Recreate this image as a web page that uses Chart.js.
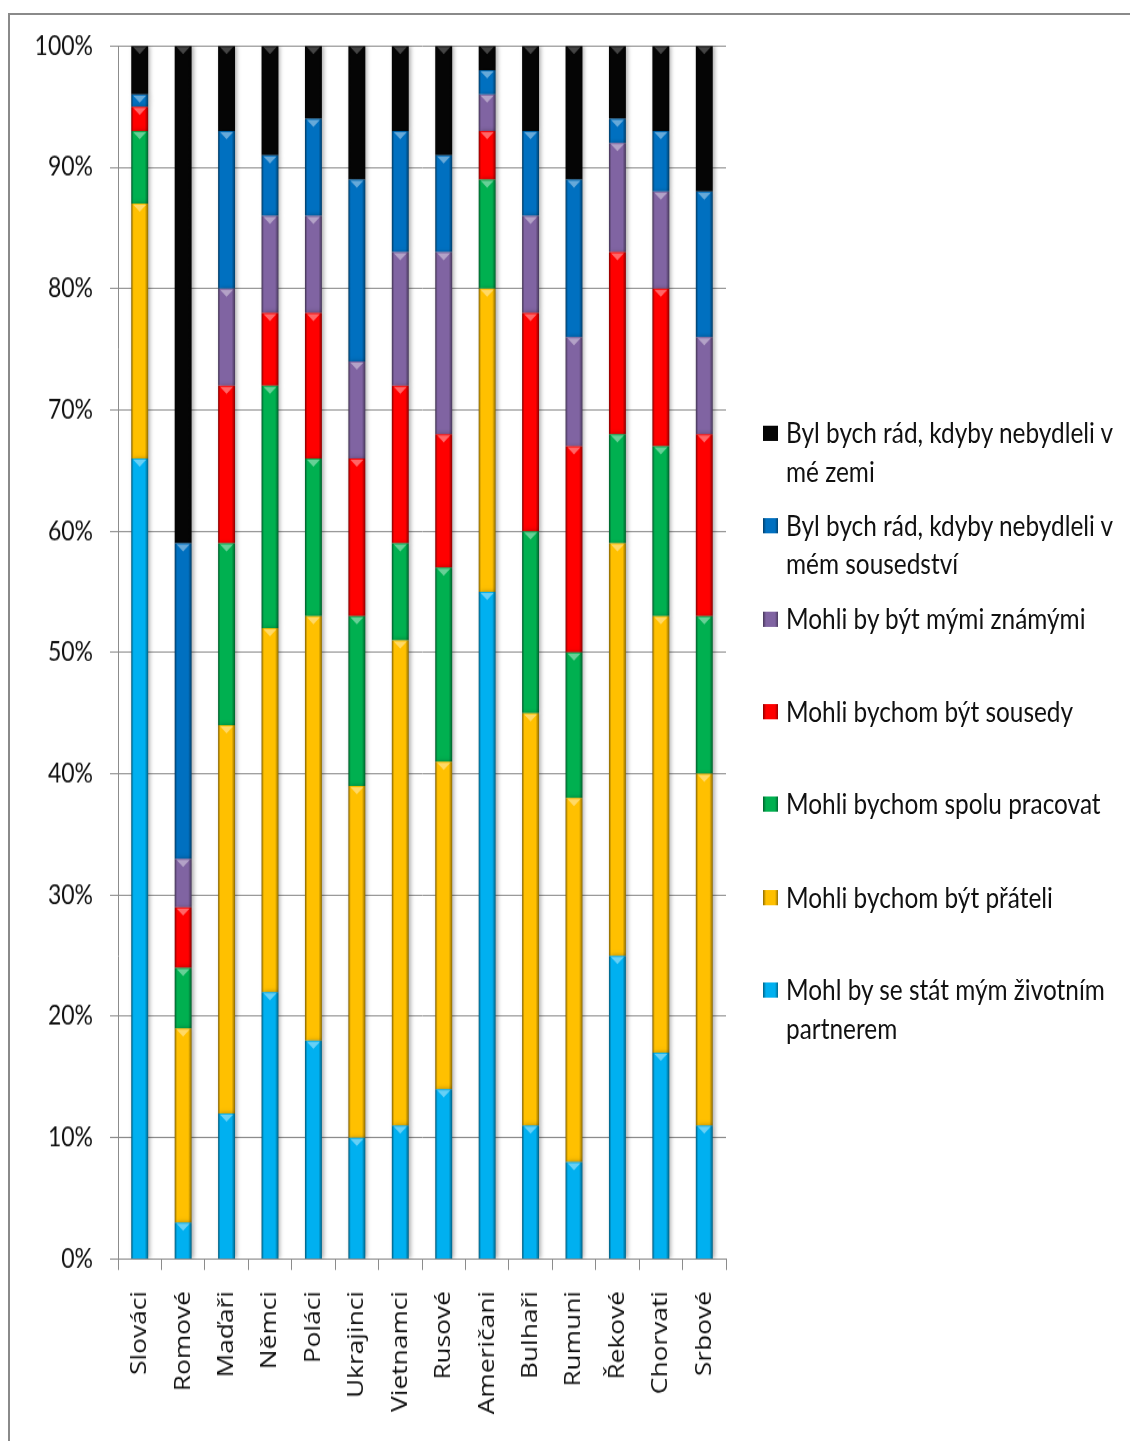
<!DOCTYPE html>
<html>
<head>
<meta charset="utf-8">
<script src="https://cdn.jsdelivr.net/npm/chart.js@4.4.1/dist/chart.umd.min.js"></script>
<style>
  html, body { margin: 0; padding: 0; background: #fff; overflow: hidden; }
  #frame { position: absolute; left: 8px; top: 13px; width: 1200px; height: 1500px;
           border-top: 2px solid #8a8a8a; border-left: 2px solid #8a8a8a; }
  /* the whole figure is drawn a bit squat and stretched vertically */
  #stage { position: absolute; left: 0; top: 0; width: 1130px; height: 1232px;
           transform-origin: 0 0; transform: scaleY(1.1696); }
  #legend { position: absolute; left: 763px; top: 354px; font-family: Lato, sans-serif;
            font-size: 24.4px; color: #111; }
  .item { position: relative; height: 79.35px; padding-left: 23px; line-height: 32.5px; width: 348px; }
  .box { position: absolute; left: 0; top: 10px; width: 15px; height: 13px; }
</style>
</head>
<body>
<div id="frame"></div>
<div id="stage">
  <canvas id="chart" width="1130" height="1232"></canvas>
  <div id="legend"></div>
</div>
<script>
const categories = ['Slováci', 'Romové', 'Maďaři', 'Němci', 'Poláci', 'Ukrajinci', 'Vietnamci',
                    'Rusové', 'Američani', 'Bulhaři', 'Rumuni', 'Řekové', 'Chorvati', 'Srbové'];

// shares in %, bottom of the stack first
const partner       = [66,  3, 12, 22, 18, 10, 11, 14, 55, 11,  8, 25, 17, 11];
const friends       = [21, 16, 32, 30, 35, 29, 40, 27, 25, 34, 30, 34, 36, 29];
const coworkers     = [ 6,  5, 15, 20, 13, 14,  8, 16,  9, 15, 12,  9, 14, 13];
const neighbours    = [ 2,  5, 13,  6, 12, 13, 13, 11,  4, 18, 17, 15, 13, 15];
const acquaintances = [ 0,  4,  8,  8,  8,  8, 11, 15,  3,  8,  9,  9,  8,  8];
const notNearby     = [ 1, 26, 13,  5,  8, 15, 10,  8,  2,  7, 13,  2,  5, 12];
const notInCountry  = [ 4, 41,  7,  9,  6, 11,  7,  9,  2,  7, 11,  6,  7, 12];

const seriesNames = [
  'Mohl by se stát mým životním partnerem',
  'Mohli bychom být přáteli',
  'Mohli bychom spolu pracovat',
  'Mohli bychom být sousedy',
  'Mohli by být mými známými',
  'Byl bych rád, kdyby nebydleli v mém sousedství',
  'Byl bych rád, kdyby nebydleli v mé zemi'
];
const seriesValues = [partner, friends, coworkers, neighbours, acquaintances, notNearby, notInCountry];
const colors = ['#00B0F0', '#FFC000', '#00B050', '#FF0000', '#8064A2', '#0070C0', '#050505'];

const barPct = 0.39;

function rgb(hex) {
  const n = parseInt(hex.slice(1), 16);
  return [(n >> 16) & 255, (n >> 8) & 255, n & 255];
}
function shade(hex, f) {
  const [r, g, b] = rgb(hex);
  return `rgb(${Math.round(r * f)},${Math.round(g * f)},${Math.round(b * f)})`;
}
function tint(hex, f) {
  const [r, g, b] = rgb(hex);
  return `rgb(${Math.round(r + (255 - r) * f)},${Math.round(g + (255 - g) * f)},${Math.round(b + (255 - b) * f)})`;
}

// horizontal gradient across each bar for the bevelled look
function barFill(ctx, base) {
  const chart = ctx.chart;
  const x = chart.scales && chart.scales.x;
  if (ctx.type !== 'data' || !x || !x.width) return base;
  const cx = x.getPixelForValue(ctx.dataIndex);
  if (!isFinite(cx)) return base;
  const hw = x.width / categories.length * barPct / 2;
  const g = chart.ctx.createLinearGradient(cx - hw, 0, cx + hw, 0);
  g.addColorStop(0, shade(base, 0.5));
  g.addColorStop(0.14, base);
  g.addColorStop(0.8, base);
  g.addColorStop(1, shade(base, 0.55));
  return g;
}

// soft shadow right of the bars and a small lighter wedge on top of each segment
const bevel = {
  id: 'bevel',
  beforeDatasetsDraw(chart) {
    const c = chart.ctx;
    c.save();
    c.shadowColor = 'rgba(0,0,0,0.3)';
    c.shadowBlur = 4;
    c.shadowOffsetX = 2;
  },
  afterDatasetsDraw(chart) {
    const c = chart.ctx;
    c.restore();
    chart.data.datasets.forEach((ds, i) => {
      chart.getDatasetMeta(i).data.forEach(bar => {
        const h = Math.abs(bar.base - bar.y);
        if (h < 2) return;
        const half = bar.width / 2 - 2;
        c.beginPath();
        c.moveTo(bar.x - half, bar.y + 1);
        c.lineTo(bar.x + half, bar.y + 1);
        c.lineTo(bar.x, bar.y + 1 + Math.min(6, h - 1));
        c.closePath();
        c.fillStyle = i === 6 ? '#444' : tint(colors[i], 0.4);
        c.fill();
      });
    });
  }
};

const datasets = seriesValues.map((vals, i) => ({
  label: seriesNames[i],
  data: vals,
  backgroundColor: ctx => barFill(ctx, colors[i]),
  borderWidth: 0,
  barPercentage: barPct,
  categoryPercentage: 1
}));

const axisGray = '#8c8c8c';

new Chart(document.getElementById('chart').getContext('2d'), {
  type: 'bar',
  data: { labels: categories, datasets: datasets },
  options: {
    responsive: false,
    animation: false,
    layout: { padding: { top: 39.3, right: 404, bottom: 0, left: 0 } },
    plugins: { legend: { display: false }, tooltip: { enabled: false } },
    scales: {
      x: {
        stacked: true,
        offset: true,
        grid: { offset: true, drawOnChartArea: false, drawTicks: true, tickLength: 9.4, color: axisGray },
        border: { color: axisGray },
        ticks: {
          autoSkip: false, minRotation: 90, maxRotation: 90, padding: 18, color: '#111',
          font: { family: '"Open Sans"', size: 22.5 }
        },
        afterFit: s => { s.height = 1232 - 1076.4; }
      },
      y: {
        stacked: true,
        min: 0,
        max: 100,
        grid: { color: axisGray, tickLength: 8 },
        border: { color: axisGray },
        ticks: {
          stepSize: 10, padding: 17, color: '#111',
          font: { family: 'Lato', size: 23 },
          callback: v => v + '%'
        },
        afterFit: s => { s.width = 118; }
      }
    }
  },
  plugins: [bevel]
});

// legend, top entry = top of the stack
const legend = document.getElementById('legend');
for (let i = seriesNames.length - 1; i >= 0; i--) {
  const item = document.createElement('div');
  item.className = 'item';
  const box = document.createElement('span');
  box.className = 'box';
  box.style.background = `linear-gradient(to right, ${shade(colors[i], 0.55)}, ${colors[i]} 20%, ${colors[i]} 80%, ${shade(colors[i], 0.6)})`;
  item.appendChild(box);
  item.appendChild(document.createTextNode(seriesNames[i]));
  legend.appendChild(item);
}
</script>
</body>
</html>
